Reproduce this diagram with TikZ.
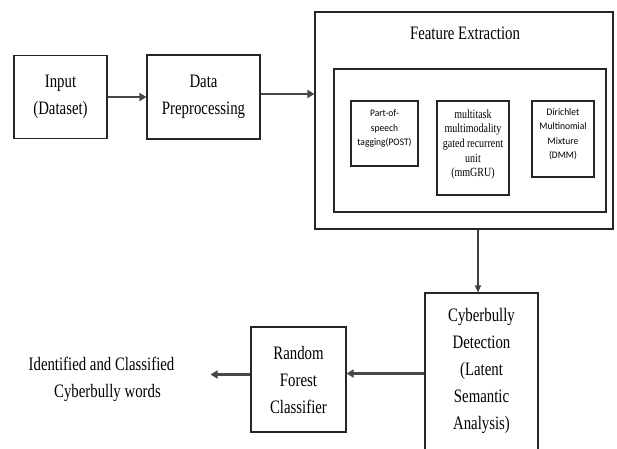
\documentclass[tikz,border=0pt]{standalone}
\usepackage{fontspec}
\setmainfont{Liberation Serif}[FakeStretch=0.78]
\newfontfamily\subserif{Liberation Serif}[FakeStretch=0.8]
\newfontfamily\subsans{Carlito}[FakeStretch=0.95]
\usetikzlibrary{arrows.meta}
\begin{document}
\begin{tikzpicture}[x=1pt,y=-1pt,
  box/.style={draw=black!85, line width=1.1pt, inner sep=0pt, align=center,
    font=\fontsize{19}{27}\selectfont},
  subbox/.style={draw=black!85, line width=1.1pt, inner sep=0pt},
  bigtext/.style={inner sep=0pt, align=center, font=\fontsize{19}{27}\selectfont},
  sanstext/.style={inner sep=0pt, align=center, font=\subsans\fontsize{10}{14.5}\selectfont},
  seriftext/.style={inner sep=0pt, align=center, font=\subserif\fontsize{12.5}{14.7}\selectfont},
  arr/.style={draw=black!72, line width=2.2pt, -{Triangle[length=7pt,width=8pt]}},
  thinarr/.style={draw=black!75, line width=1.1pt, -{Triangle[length=7pt,width=6pt]}}]
\useasboundingbox (0,0) rectangle (617,448);
% top row
\node[box, minimum width=93pt, minimum height=83pt] (in) at (60.5,97) {Input\\(Dataset)};
\node[box, minimum width=113pt, minimum height=84pt] (dp) at (203.5,97) {Data\\Preprocessing};
% feature extraction
\node[subbox, minimum width=298pt, minimum height=217pt] (fe) at (464,120.5) {};
\node[bigtext] (fetitle) at (465,33) {Feature Extraction};
\node[subbox, minimum width=272pt, minimum height=143pt] (inner) at (470,140.5) {};
\node[subbox, minimum width=67pt, minimum height=65pt] (pos) at (384.5,133.5) {};
\node[sanstext] (postext) at (384.5,128.5) {Part-of-\\speech\\tagging(POST)};
\node[subbox, minimum width=72pt, minimum height=94pt] (mmgru) at (473,148) {};
\node[seriftext] (mmgrutext) at (473,144.5) {multitask\\multimodality\\gated recurrent\\unit\\(mmGRU)};
\node[subbox, minimum width=62pt, minimum height=76pt] (dmm) at (563,139) {};
\node[sanstext] (dmmtext) at (563,134) {Dirichlet\\Multinomial\\Mixture\\(DMM)};
% bottom row
\node[subbox, minimum width=113pt, minimum height=180pt] (cd) at (481.5,383) {};
\node[bigtext] (cdtext) at (481.5,371)
  {Cyberbully\\Detection\\(Latent\\Semantic\\Analysis)};
\node[box, minimum width=95pt, minimum height=105pt] (rf) at (298.5,379.5)
  {Random\\Forest\\Classifier};
\node[bigtext, inner xsep=36pt] (out) at (101.5,379)
  {Identified and Classified\\\hspace*{12pt}Cyberbully words};
% connectors
\draw[arr] (in) -- (dp);
\draw[arr] ([yshift=3pt]dp.east) -- ([yshift=3pt]dp.east -| fe.west);
\draw[thinarr] ([xshift=-3.5pt]cd.north |- fe.south) -- ([xshift=-3.5pt]cd.north);
\draw[arr] ([yshift=6pt]rf.east -| cd.west) -- ([yshift=6pt]rf.east);
\draw[arr] ([yshift=5pt]rf.west) -- ([yshift=5pt]rf.west -| out.east);
\end{tikzpicture}
\end{document}
